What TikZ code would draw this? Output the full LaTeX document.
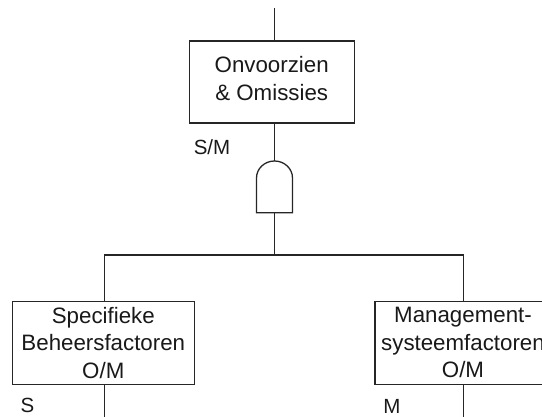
\documentclass[tikz,border=0pt]{standalone}
\usepackage{fontspec}
\setmainfont{Liberation Sans}
\begin{document}
\begin{tikzpicture}[x=1pt,y=-1pt,
  line width=1.3pt,
  draw=black!85,
  every node/.style={text=black!90},
  event/.style={draw=black!85, line width=1.3pt, fill=white, align=center,
    inner sep=0pt, font=\fontsize{22.3}{27.5}\selectfont},
  tag/.style={inner sep=0pt, font=\fontsize{20.5}{24}\selectfont}]
\useasboundingbox (0,0) rectangle (542,417);
\clip (0,0) rectangle (542,417);

% events
\node[event, minimum width=165pt, minimum height=82pt] (top) at (271.7,82) {};
\node[align=center, inner sep=0pt, font=\fontsize{22.3}{27.5}\selectfont]
  (toptext) at (271.7,78.5) {Onvoorzien\\\& Omissies};
\node[event, minimum width=182pt, minimum height=83pt] (left) at (103.3,342.7)
  {Specifieke\\Beheersfactoren\\O/M};
\node[event, minimum width=176pt, minimum height=83pt] (right) at (463,342.7)
  {Management-\\systeemfactoren\\O/M};

% labels
\node[tag] (lsm) at (212,147) {S/M};
\node[tag] (ls) at (27.5,405) {S};
\node[tag] (lm) at (392,406) {M};

% connection points
\coordinate (topin) at (274.5,8);
\coordinate (gatetop) at (274.5,161);
\coordinate (gate) at (274.5,212.7);
\coordinate (bar) at (274.5,255);
\coordinate (lbar) at (104.3,255);
\coordinate (rbar) at (463.3,255);
\coordinate (lout) at (104.3,417);
\coordinate (rout) at (463.3,417);

% AND gate
\draw[fill=white] ([xshift=-18pt]gate) -- ++(0,-34.7)
  arc[start angle=180, end angle=0, x radius=18pt, y radius=17pt]
  -- ([xshift=18pt]gate) -- cycle;

% connectors
\draw (topin) -- (topin |- top.north);
\draw (top.south -| gatetop) -- (gatetop);
\draw (gate) -- (bar);
\draw (left.north -| lbar) -- (lbar) -- (rbar) -- (right.north -| rbar);
\draw (left.south -| lout) -- (lout);
\draw (right.south -| rout) -- (rout);
\end{tikzpicture}
\end{document}
